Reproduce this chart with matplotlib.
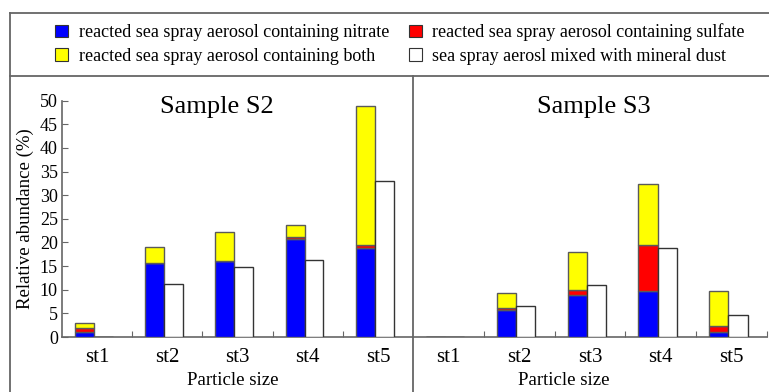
import numpy as np
import matplotlib
matplotlib.use("Agg")
import matplotlib.pyplot as plt
from matplotlib.patches import Patch
from matplotlib.lines import Line2D

plt.rcParams["font.family"] = ["Liberation Serif", "DejaVu Serif"]

CATEGORIES = ["st1", "st2", "st3", "st4", "st5"]
SERIES = [
    "reacted sea spray aerosol containing nitrate",
    "reacted sea spray aerosol containing sulfate",
    "reacted sea spray aerosol containing both",
    "sea spray aerosl mixed with mineral dust",
]

# Sample S2 (relative abundance, %)
S2_NITRATE = [1.0, 15.7, 16.1, 20.7, 18.8]
S2_SULFATE = [1.0, 0.0, 0.0, 0.5, 0.7]
S2_BOTH = [1.0, 3.3, 6.1, 2.6, 29.4]
S2_DUST = [0.0, 11.3, 14.9, 16.2, 33.1]

# Sample S3 (relative abundance, %)
S3_NITRATE = [0.0, 5.7, 8.9, 9.7, 1.0]
S3_SULFATE = [0.0, 0.4, 1.0, 9.8, 1.3]
S3_BOTH = [0.0, 3.3, 8.1, 12.8, 7.4]
S3_DUST = [0.0, 6.6, 11.1, 18.8, 4.7]

COLORS = ["#0000ff", "#ff0000", "#ffff00", "#ffffff"]
EDGE = "#5a5a5a"
LINE = "#666666"

W, H = 769, 392
fig = plt.figure(figsize=(W / 100, H / 100), dpi=100)


def fx(px):
    return px / W


def fy(py):
    return 1 - py / H


def draw_panel(ax, nitrate, sulfate, both, dust, title, title_x, xlabel_x, show_y):
    x = np.arange(len(CATEGORIES))
    bw = 0.27
    xs = x - 0.18
    xw = x + 0.09
    nitrate, sulfate, both = map(np.asarray, (nitrate, sulfate, both))
    ax.bar(xs, nitrate, bw, color=COLORS[0], edgecolor=EDGE, linewidth=1, zorder=3)
    ax.bar(xs, sulfate, bw, bottom=nitrate, color=COLORS[1], edgecolor=EDGE, linewidth=1, zorder=3)
    ax.bar(xs, both, bw, bottom=nitrate + sulfate, color=COLORS[2], edgecolor=EDGE, linewidth=1, zorder=3)
    ax.bar(xw, dust, bw, color=COLORS[3], edgecolor="#333333", linewidth=1, zorder=3)

    ax.set_xlim(-0.5, len(CATEGORIES) - 0.5)
    ax.set_ylim(0, 50)
    for s in ["top", "right"]:
        ax.spines[s].set_visible(False)
    ax.spines["bottom"].set_color(LINE)
    ax.spines["bottom"].set_linewidth(1.2)
    ax.spines["left"].set_color(LINE)
    ax.spines["left"].set_linewidth(1.2)

    ax.set_xticks(np.arange(len(CATEGORIES) - 1) + 0.5 if show_y else np.arange(len(CATEGORIES)) + 0.5)
    ax.set_xticklabels([])
    ax.set_xticks(x, minor=True)
    ax.set_xticklabels(CATEGORIES, minor=True, fontsize=15)
    ax.tick_params(axis="x", which="major", direction="in", length=4, color=LINE)
    ax.tick_params(axis="x", which="minor", length=0, pad=8)

    if show_y:
        ax.set_yticks(np.arange(0, 51, 5))
        ax.tick_params(axis="y", direction="in", length=4, color=LINE, labelsize=13, pad=3)
        ax.set_ylabel("Relative abundance (%)", fontsize=13.5, labelpad=4)
    else:
        ax.spines["left"].set_visible(False)
        ax.set_yticks([])

    ax.text(title_x, 0.973, title, transform=ax.transAxes, ha="center", va="center", fontsize=19)
    ax.text(xlabel_x, -0.185, "Particle size", transform=ax.transAxes, ha="center", va="center", fontsize=13.5)


ax1 = fig.add_axes([fx(62), fy(337), fx(413 - 62), (337 - 100.7) / H])
ax2 = fig.add_axes([fx(413), fy(337), fx(767 - 413), (337 - 100.7) / H])

draw_panel(ax1, S2_NITRATE, S2_SULFATE, S2_BOTH, S2_DUST, "Sample S2", 0.44, 0.487, True)
draw_panel(ax2, S3_NITRATE, S3_SULFATE, S3_BOTH, S3_DUST, "Sample S3", 0.511, 0.427, False)

# frame lines around legend and panel divider
for line in [
    Line2D([fx(10), fx(10)], [fy(12.5), 0], color=LINE, lw=1.3),
    Line2D([fx(10), 1], [fy(12.5), fy(12.5)], color=LINE, lw=1.3),
    Line2D([fx(10), 1], [fy(75.5), fy(75.5)], color=LINE, lw=1.3),
    Line2D([fx(413), fx(413)], [fy(75.5), 0], color=LINE, lw=1.3),
]:
    fig.add_artist(line)

handles = [Patch(facecolor=c, edgecolor="#333333", linewidth=0.8) for c in COLORS]
order = [0, 2, 1, 3]
fig.legend(
    [handles[i] for i in order],
    [SERIES[i] for i in order],
    ncol=2,
    loc="center left",
    bbox_to_anchor=(fx(39), fy(44)),
    frameon=False,
    fontsize=13,
    handlelength=0.7,
    handleheight=0.7,
    handletextpad=0.6,
    columnspacing=1.1,
    labelspacing=0.35,
)

fig.savefig("out.png", dpi=100)
